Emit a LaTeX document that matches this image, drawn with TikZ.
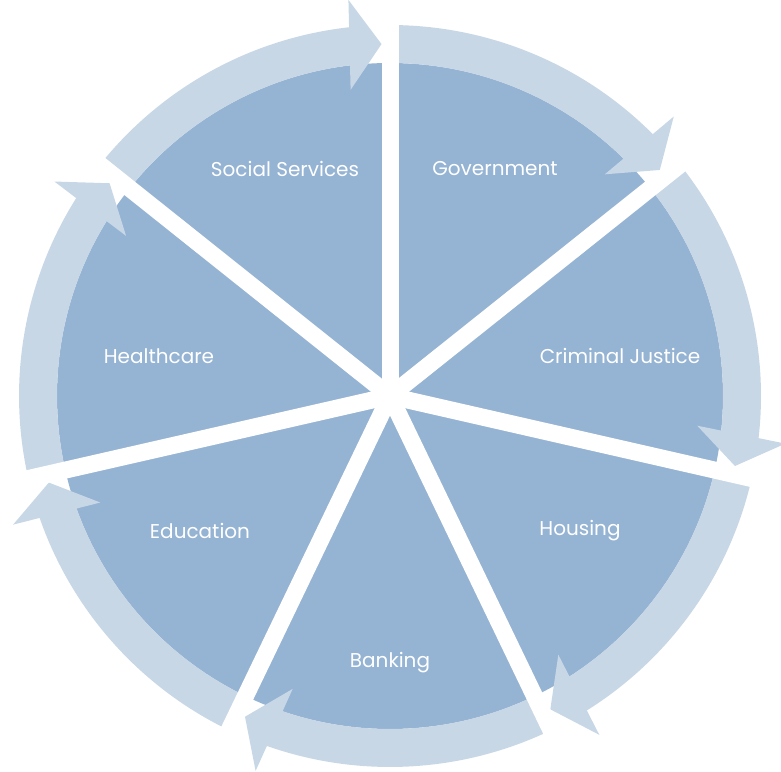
\documentclass[tikz,border=0pt]{standalone}
\usepackage{fontspec}
\setmainfont{Poppins}
\usetikzlibrary{calc}
\definecolor{piecol}{HTML}{95B3D3}
\definecolor{bandcol}{HTML}{C8D7E6}
\begin{document}
\begin{tikzpicture}[x=1pt,y=1pt,
  lbl/.style={text=white,font=\fontsize{20}{24}\selectfont,inner sep=0pt},
  gapline/.style={white,line width=17pt},
  bandfill/.style={fill=bandcol}]
\useasboundingbox (0,0) rectangle (781,771);
\coordinate (c) at (390,375);
\fill[piecol] (c) circle (333);
\foreach \k in {0,...,6}{
  \pgfmathsetmacro{\g}{90-(\k+1)*360/7}
  \begin{scope}[shift={(c)}, rotate=\g]
    \fill[bandfill] (6:333) arc[start angle=6,end angle=52.5,radius=333]
       -- (52.5:371) arc[start angle=52.5,end angle=6,radius=371] -- cycle;
    \fill[bandfill] (351.9,8.5) -- (396.12,41.58) -- (306.14,39.40) -- cycle;
  \end{scope}
}
\foreach \k in {0,...,6}{
  \pgfmathsetmacro{\g}{90-\k*360/7}
  \draw[gapline] (c) -- ++(\g:385);
}
\node[lbl] (gov) at (495,602) {Government};
\node[lbl] (crim) at (620,415) {Criminal Justice};
\node[lbl] (hous) at (580,240) {Housing};
\node[lbl] (bank) at (390,108) {Banking};
\node[lbl] (edu) at (200,240) {Education};
\node[lbl] (health) at (159,415) {Healthcare};
\node[lbl] (soc) at (285,602) {Social Services};
\end{tikzpicture}
\end{document}
